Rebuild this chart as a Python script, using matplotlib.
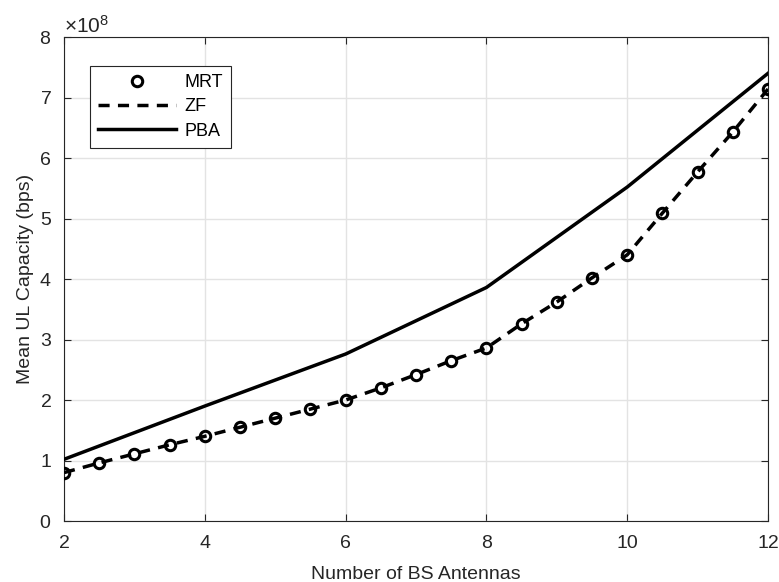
import numpy as np
import matplotlib.pyplot as plt
from matplotlib.ticker import ScalarFormatter

plt.rcParams['font.family'] = ['Liberation Sans', 'DejaVu Sans']
plt.rcParams['mathtext.fontset'] = 'custom'
plt.rcParams['mathtext.rm'] = 'Liberation Sans'
plt.rcParams['mathtext.it'] = 'Liberation Sans'

# число антенн БС и средняя пропускная способность UL, бит/с
antennas = np.arange(2, 12.5, 0.5)
mrt = np.array([0.80, 0.96, 1.11, 1.26, 1.40, 1.55, 1.70, 1.85, 2.00, 2.20, 2.42,
                2.65, 2.86, 3.26, 3.62, 4.02, 4.40, 5.09, 5.77, 6.43, 7.14]) * 1e8
zf = mrt.copy()
pba_antennas = np.array([2, 4, 6, 8, 10, 12])
pba = np.array([1.02, 1.90, 2.76, 3.86, 5.52, 7.40]) * 1e8


def main():
    fig = plt.figure(figsize=(7.79, 5.82), dpi=100)
    ax = fig.add_axes([0.0822, 0.1048, 0.9037, 0.8316])

    ax.plot(antennas, mrt, 'o', color='k', markerfacecolor='none',
            markersize=7.5, markeredgewidth=2.2, label='MRT', zorder=4)
    ax.plot(antennas, zf, '--', color='k', linewidth=2.5,
            dashes=(3.2, 2.4), label='ZF', zorder=3)
    ax.plot(pba_antennas, pba, '-', color='k', linewidth=2.5, label='PBA', zorder=3)

    ax.set_xlim(2, 12)
    ax.set_ylim(0, 8e8)
    ax.set_xticks([2, 4, 6, 8, 10, 12])
    ax.set_yticks(np.arange(0, 9) * 1e8)

    fmt = ScalarFormatter(useMathText=True)
    fmt.set_powerlimits((0, 0))
    ax.yaxis.set_major_formatter(fmt)
    off = ax.yaxis.get_offset_text()
    off.set_fontsize(15)
    off.set_color('#262626')

    ax.grid(True, color='#e3e3e3', linewidth=1.0)
    ax.set_axisbelow(True)
    ax.tick_params(direction='in', top=True, right=True, labelsize=14,
                   colors='#262626', length=5, width=0.8)
    ax.tick_params(axis='x', pad=10)
    ax.tick_params(axis='y', pad=9)
    for sp in ax.spines.values():
        sp.set_color('#262626')
        sp.set_linewidth(0.8)

    ax.set_xlabel('Number of BS Antennas', fontsize=14, color='#262626', labelpad=10)
    ax.set_ylabel('Mean UL Capacity (bps)', fontsize=14, color='#262626', labelpad=4)

    leg = ax.legend(loc='upper left', bbox_to_anchor=(0.037, 0.94), fontsize=13,
                    handlelength=4.3, handletextpad=0.5, borderpad=0.45,
                    labelspacing=0.4, fancybox=False, framealpha=1,
                    borderaxespad=0)
    leg.get_frame().set_edgecolor('#262626')
    leg.get_frame().set_linewidth(0.8)

    fig.savefig('out.png', dpi=100)


if __name__ == '__main__':
    main()
